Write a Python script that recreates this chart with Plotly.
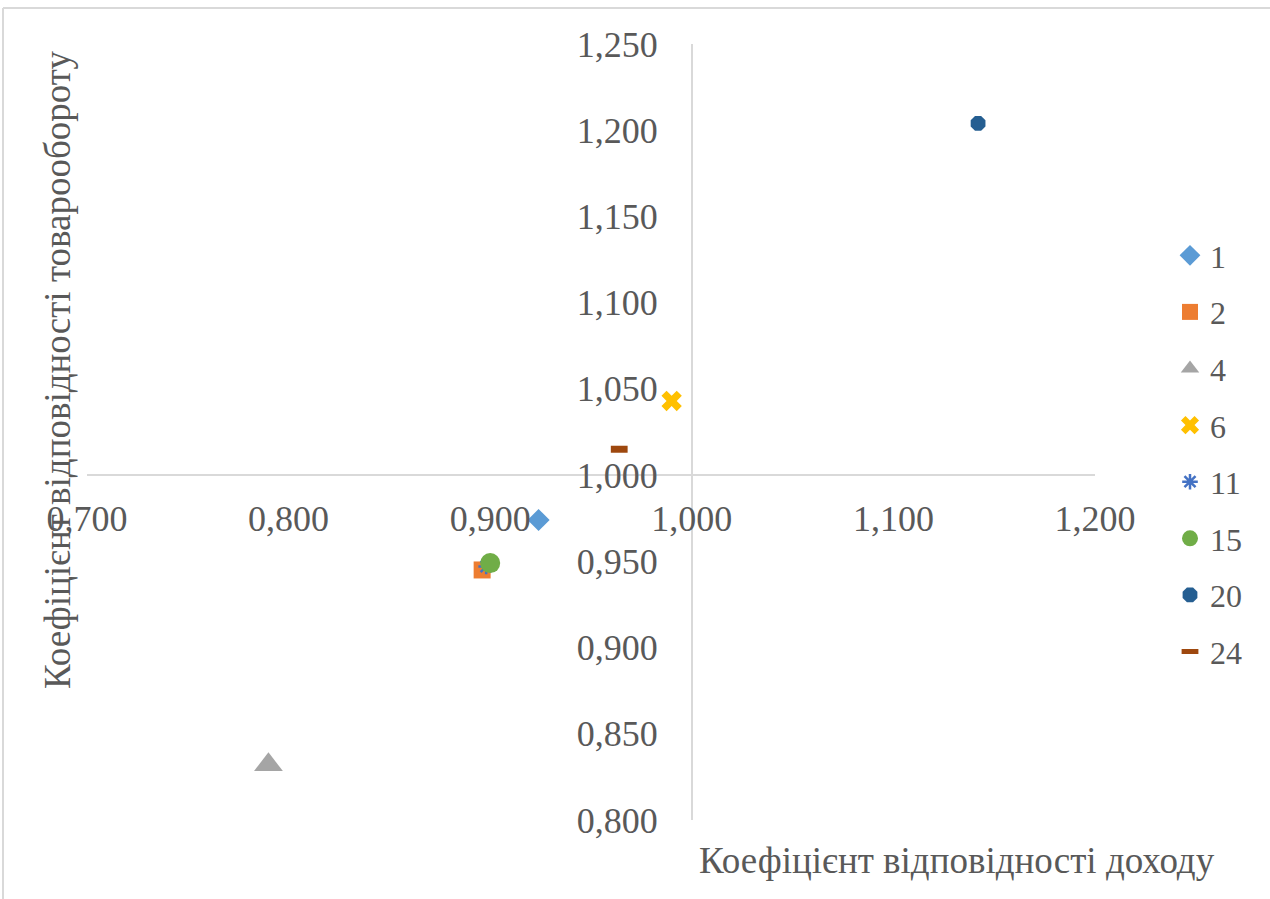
import plotly.graph_objects as go

# Regions: income conformity coefficient (x) vs turnover conformity coefficient (y)
names = ["1", "2", "4", "6", "11", "15", "20", "24"]
income_coef = [0.924, 0.896, 0.790, 0.990, 0.898, 0.900, 1.142, 0.964]
turnover_coef = [0.974, 0.945, 0.832, 1.043, 0.947, 0.949, 1.204, 1.015]

symbols = ["diamond", "square", "triangle-up", "x", "asterisk-open",
           "circle", "octagon", "line-ew-open"]
colors = ["#5B9BD5", "#ED7D31", "#A5A5A5", "#FFC000", "#4472C4",
          "#70AD47", "#255E91", "#9E480E"]
sizes = [17, 17, 25, 18, 13, 20, 16, 12]
line_widths = [0, 0, 0, 0, 2.5, 0, 0, 7]

x_ticks = [0.7, 0.8, 0.9, 1.0, 1.1, 1.2]
y_ticks = [0.80, 0.85, 0.90, 0.95, 1.00, 1.05, 1.10, 1.15, 1.20, 1.25]

X_RANGE = [0.7, 1.2]
Y_RANGE = [0.8, 1.25]
CROSS = 1.0

FONT = "Liberation Serif"
TEXT_COLOR = "#595959"
AXIS_COLOR = "#D9D9D9"

fig = go.Figure()
for i, name in enumerate(names):
    fig.add_trace(go.Scatter(
        x=[income_coef[i]], y=[turnover_coef[i]],
        mode="markers", name=name, legendgroup=name,
        marker=dict(symbol=symbols[i], size=sizes[i], color=colors[i],
                    line=dict(width=line_widths[i], color=colors[i])),
    ))

W, H = 1270, 899
ml, mr, mt, mb = 87, 175, 44, 79
pw, ph = W - ml - mr, H - mt - mb

def px_x(p):
    return (p - ml) / pw

def px_y(p):
    return (H - mb - p) / ph

fig.update_layout(
    width=W, height=H,
    margin=dict(l=ml, r=mr, t=mt, b=mb),
    paper_bgcolor="white", plot_bgcolor="white",
    separators=", ",
    font=dict(family=FONT, color=TEXT_COLOR),
    xaxis=dict(
        range=X_RANGE, tickvals=x_ticks, tickformat=".3f",
        showgrid=False, zeroline=False, showline=True,
        linecolor=AXIS_COLOR, linewidth=1.5,
        anchor="free",
        position=(CROSS - Y_RANGE[0]) / (Y_RANGE[1] - Y_RANGE[0]),
        ticks="", ticklabelstandoff=12,
        tickfont=dict(size=36, color=TEXT_COLOR, family=FONT),
    ),
    yaxis=dict(
        range=Y_RANGE, tickvals=y_ticks, tickformat=".3f",
        showgrid=False, zeroline=False, showline=True,
        linecolor=AXIS_COLOR, linewidth=1.5,
        anchor="free",
        position=(CROSS - X_RANGE[0]) / (X_RANGE[1] - X_RANGE[0]),
        ticks="", ticklabelstandoff=26,
        tickfont=dict(size=36, color=TEXT_COLOR, family=FONT),
    ),
    legend=dict(
        x=px_x(1170), xanchor="left",
        y=px_y(228), yanchor="top",
        font=dict(size=32, color=TEXT_COLOR, family=FONT),
        tracegroupgap=12, itemsizing="trace",
        bgcolor="rgba(0,0,0,0)",
    ),
    showlegend=True,
)

# Axis titles
fig.add_annotation(
    text="Коефіцієнт відповідності доходу",
    xref="paper", yref="paper", x=px_x(957), y=px_y(860),
    xanchor="center", yanchor="middle", showarrow=False,
    font=dict(size=37, color=TEXT_COLOR, family=FONT),
)
fig.add_annotation(
    text="Коефіцієнт відповідності товарообороту",
    xref="paper", yref="paper", x=px_x(58), y=px_y(370),
    xanchor="center", yanchor="middle", showarrow=False, textangle=-90,
    font=dict(size=37, color=TEXT_COLOR, family=FONT),
)

# Chart frame (top and left edges)
fig.add_shape(type="line", xref="paper", yref="paper",
              x0=px_x(3), x1=px_x(1280), y0=px_y(8), y1=px_y(8),
              line=dict(color=AXIS_COLOR, width=2))
fig.add_shape(type="line", xref="paper", yref="paper",
              x0=px_x(3), x1=px_x(3), y0=px_y(8), y1=px_y(910),
              line=dict(color=AXIS_COLOR, width=2))

fig.write_html("out.html")
